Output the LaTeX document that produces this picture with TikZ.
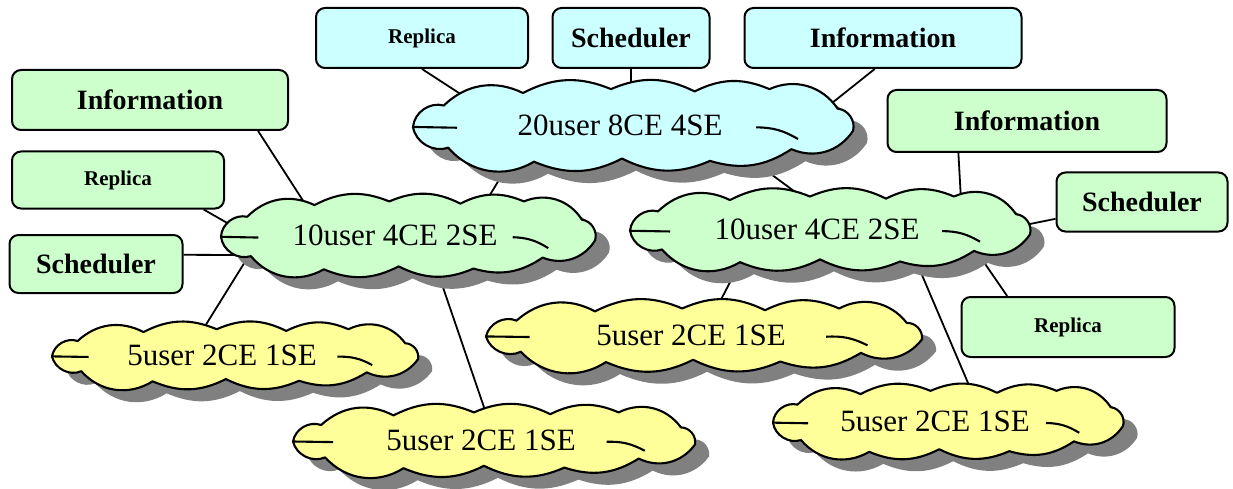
\documentclass[tikz,border=0pt]{standalone}
\usepackage{fontspec}
\setmainfont{Liberation Serif}
\usepackage{tikz}
\usetikzlibrary{calc,backgrounds}
\definecolor{GridCyan}{HTML}{CCFFFF}
\definecolor{GridGreen}{HTML}{CCFFCC}
\definecolor{GridYellow}{HTML}{FFFF99}
\newcommand\puffs[2]{%
  ({-1.00*#1},{ 0.05*#2}) to[bend left=50] ({-0.86*#1},{-0.50*#2})
  to[bend left=35] ({-0.50*#1},{-0.82*#2})
  to[bend left=25] ({-0.10*#1},{-0.92*#2})
  to[bend left=25] ({ 0.28*#1},{-0.86*#2})
  to[bend left=25] ({ 0.62*#1},{-0.92*#2})
  to[bend left=40] ({ 0.93*#1},{-0.42*#2})
  to[bend left=50] ({ 1.00*#1},{ 0.15*#2})
  to[bend left=40] ({ 0.72*#1},{ 0.62*#2})
  to[bend left=25] ({ 0.35*#1},{ 0.92*#2})
  to[bend left=25] ({-0.05*#1},{ 0.86*#2})
  to[bend left=25] ({-0.45*#1},{ 0.94*#2})
  to[bend left=40] ({-0.84*#1},{ 0.58*#2})
  to[bend left=50] ({-1.00*#1},{ 0.05*#2}) -- cycle}
\tikzset{
  pics/site/.style n args={3}{code={
    \fill[gray, shift={(14,12)}] \puffs{#1}{#2};
    \filldraw[fill=#3, line width=2.1pt, line join=round] \puffs{#1}{#2};
    \draw[line width=2.1pt] ({-1.00*#1},{0.05*#2}) -- ({-0.80*#1},{0.07*#2});
    \draw[line width=2.1pt] ({0.56*#1},{0.06*#2}) to[bend left=15] ({0.75*#1},{0.36*#2});
  }}}

\begin{document}
\begin{tikzpicture}[x=1pt,y=-1pt,
  sitetxt/.style={inner sep=0pt, font=\fontsize{31}{36}\selectfont},
  svc/.style={draw, rounded corners=9pt, line width=2pt, inner sep=0pt,
    font=\bfseries\fontsize{28}{32}\selectfont},
  svcsmall/.style={svc, font=\bfseries\fontsize{21}{24}\selectfont},
  link/.style={line width=1.8pt}]
  \useasboundingbox (0,0) rectangle (1233,489);

  % services of the top site
  \node[svcsmall, fill=GridCyan, minimum width=212pt, minimum height=60pt] (bRep) at (422,38) {Replica};
  \node[svc, fill=GridCyan, minimum width=157pt, minimum height=60pt] (bSch) at (631,38) {Scheduler};
  \node[svc, fill=GridCyan, minimum width=277pt, minimum height=60pt] (bInf) at (883,38) {Information};

  % services of the two middle sites
  \node[svc, fill=GridGreen, minimum width=276pt, minimum height=60pt] (gInfL) at (150,100) {Information};
  \node[svcsmall, fill=GridGreen, minimum width=212pt, minimum height=57pt] (gRepL) at (118,180) {Replica};
  \node[svc, fill=GridGreen, minimum width=173pt, minimum height=58pt] (gSchL) at (96,264) {Scheduler};
  \node[svc, fill=GridGreen, minimum width=279pt, minimum height=62pt] (gInfR) at (1027,121) {Information};
  \node[svc, fill=GridGreen, minimum width=171pt, minimum height=59pt] (gSchR) at (1142,202) {Scheduler};
  \node[svcsmall, fill=GridGreen, minimum width=213pt, minimum height=60pt] (gRepR) at (1068,327) {Replica};

  % sites
  \pic at (633,125) {site={220}{39}{GridCyan}};
  \node[sitetxt] (cTop) at (620,125) {20user 8CE 4SE};
  \pic at (408,235) {site={187}{36.5}{GridGreen}};
  \node[sitetxt] (cL) at (395,235) {10user 4CE 2SE};
  \pic at (830,229) {site={200}{35.3}{GridGreen}};
  \node[sitetxt] (cR) at (817,229) {10user 4CE 2SE};
  \pic at (235,355) {site={183}{28}{GridYellow}};
  \node[sitetxt] (yL) at (222,355) {5user 2CE 1SE};
  \pic at (494,440) {site={201}{30}{GridYellow}};
  \node[sitetxt] (yM) at (481,440) {5user 2CE 1SE};
  \pic at (704,335) {site={218}{28.8}{GridYellow}};
  \node[sitetxt] (yC) at (691,335) {5user 2CE 1SE};
  \pic at (948,421) {site={175}{32.8}{GridYellow}};
  \node[sitetxt] (yR) at (935,421) {5user 2CE 1SE};

  \begin{scope}[on background layer]
    \draw[link] (bRep.south) -- ($(cTop)+(-141,-19)$);
    \draw[link] (bSch.south) -- (bSch.south |- cTop);
    \draw[link] (bInf.-105) -- ($(cTop)+(202,-14)$);
    \draw[link] ($(cTop)+(-107,32)$) -- ($(cL)+(87,-27)$);
    \draw[link] ($(cTop)+(140,41)$) -- ($(cR)+(-15,-32)$);
    \draw[link] (gInfL.-16) -- ($(cL)+(-84,-22)$);
    \draw[link] (gRepL.-19) -- ($(cL)+(-152,-3)$);
    \draw[link] (gSchL.6) -- ($(cL)+(-155,20)$);
    \draw[link] ($(cL)+(-147,22)$) -- ($(yL)+(-20,-24)$);
    \draw[link] ($(cL)+(40,29)$) -- ($(yM)+(6,-24)$);
    \draw[link] (gInfR.-155) -- ($(cR)+(144,-29)$);
    \draw[link] (gSchR.-169) -- ($(cR)+(203,-3)$);
    \draw[link] (gRepR.153) -- ($(cR)+(164,29)$);
    \draw[link] ($(cR)+(-78,36)$) -- ($(yC)+(24,-24)$);
    \draw[link] ($(cR)+(99,32)$) -- ($(yR)+(39,-24)$);
  \end{scope}
\end{tikzpicture}
\end{document}
